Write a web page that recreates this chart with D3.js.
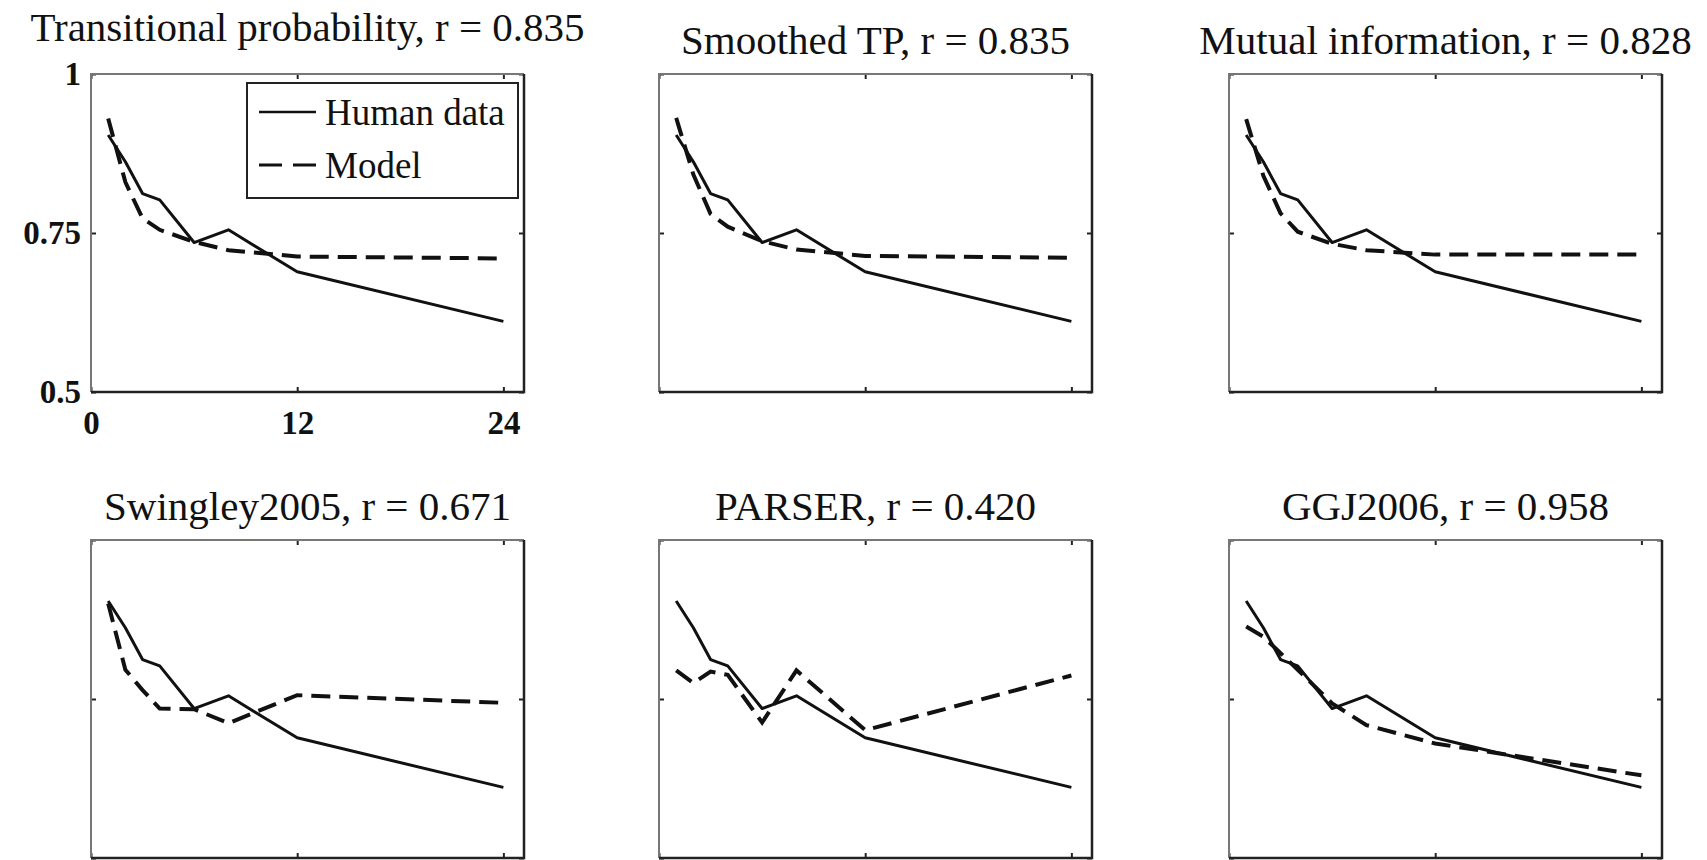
<!DOCTYPE html>
<html>
<head>
<meta charset="utf-8">
<script src="https://cdn.jsdelivr.net/npm/d3@7/dist/d3.min.js"></script>
<style>
  body { margin: 0; background: #fff; }
  svg { display: block; }
  text { font-family: "Liberation Serif", "Times New Roman", serif; fill: #111; }
</style>
</head>
<body>
<svg id="chart" width="1707" height="860"></svg>
<script>
// sentence length (words per sentence) on x, proportion correct on y
const sentenceLengths = [1, 2, 3, 4, 6, 8, 12, 24];
const humanData = [0.904, 0.862, 0.812, 0.802, 0.735, 0.755, 0.689, 0.611];

const modelNames = ['Transitional probability', 'Smoothed TP', 'Mutual information',
                    'Swingley2005', 'PARSER', 'GGJ2006'];
const modelR = ['0.835', '0.835', '0.828', '0.671', '0.420', '0.958'];

const tpModel       = [0.930, 0.830, 0.773, 0.755, 0.736, 0.723, 0.713, 0.710];
const smoothedModel = [0.931, 0.842, 0.780, 0.760, 0.737, 0.724, 0.714, 0.711];
const miModel       = [0.929, 0.840, 0.781, 0.752, 0.733, 0.723, 0.716, 0.716];
const swingleyModel = [0.900, 0.796, 0.764, 0.735, 0.734, 0.712, 0.756, 0.744];
const parserModel   = [0.795, 0.775, 0.793, 0.788, 0.713, 0.795, 0.701, 0.787];
const ggjModel      = [0.864, 0.848, 0.822, 0.796, 0.743, 0.709, 0.680, 0.630];

const xTicks = [0, 12, 24];
const yTicks = [0.5, 0.75, 1];
const yTickLabels = ['0.5', '0.75', '1'];
const legendLabels = ['Human data', 'Model'];

const modelSeries = [tpModel, smoothedModel, miModel, swingleyModel, parserModel, ggjModel];

// layout
const colLefts = [91, 659, 1229];
const rowTops = [74, 540];
const pw = 433, ph = 318;

const svg = d3.select('#chart');

const x = d3.scaleLinear().domain([0, 25.2]).range([0, pw]);
const y = d3.scaleLinear().domain([0.5, 1]).range([ph, 0]);

const line = d3.line()
  .x(d => x(d[0]))
  .y(d => y(d[1]));

modelNames.forEach((name, i) => {
  const col = i % 3, row = Math.floor(i / 3);
  const g = svg.append('g')
    .attr('transform', `translate(${colLefts[col]},${rowTops[row]})`);
  const first = i === 0;

  // title
  g.append('text')
    .attr('x', pw / 2)
    .attr('y', first ? -33 : -20)
    .attr('text-anchor', 'middle')
    .attr('font-size', 41)
    .text(`${name}, r = ${modelR[i]}`);

  // inward ticks, labels only on the first panel
  const bottom = d3.axisBottom(x).tickValues(xTicks).tickSizeInner(-5).tickSizeOuter(0)
    .tickPadding(19).tickFormat(first ? d3.format('d') : '');
  const top = d3.axisTop(x).tickValues(xTicks).tickSizeInner(-5).tickSizeOuter(0).tickFormat('');
  const left = d3.axisLeft(y).tickValues(yTicks).tickSizeInner(-5).tickSizeOuter(0)
    .tickPadding(10).tickFormat(first ? ((d, k) => yTickLabels[k]) : '');
  const right = d3.axisRight(y).tickValues(yTicks).tickSizeInner(-5).tickSizeOuter(0).tickFormat('');

  const styleAxis = sel => {
    sel.select('.domain').remove();
    sel.selectAll('line').attr('stroke', '#222').attr('stroke-width', 2);
    sel.selectAll('text')
      .attr('font-family', '"Liberation Serif", serif')
      .attr('font-size', 33)
      .attr('font-weight', 'bold')
      .attr('fill', '#111');
  };
  g.append('g').attr('transform', `translate(0,${ph})`).call(bottom).call(styleAxis);
  g.append('g').call(top).call(styleAxis);
  g.append('g').call(left).call(styleAxis);
  g.append('g').attr('transform', `translate(${pw},0)`).call(right).call(styleAxis);

  // box
  g.append('path').attr('d', `M0,${ph}V0H${pw}`)
    .attr('fill', 'none').attr('stroke', '#777').attr('stroke-width', 2);
  g.append('path').attr('d', `M0,${ph}H${pw}V0`)
    .attr('fill', 'none').attr('stroke', '#222').attr('stroke-width', 2.5);

  // human data
  g.append('path')
    .datum(d3.zip(sentenceLengths, humanData))
    .attr('d', line)
    .attr('fill', 'none')
    .attr('stroke', '#111')
    .attr('stroke-width', 3)
    .attr('stroke-linejoin', 'round');

  // model
  g.append('path')
    .datum(d3.zip(sentenceLengths, modelSeries[i]))
    .attr('d', line)
    .attr('fill', 'none')
    .attr('stroke', '#111')
    .attr('stroke-width', 4)
    .attr('stroke-dasharray', '19,9');

  if (first) {
    const lg = g.append('g').attr('transform', 'translate(156,9)');
    lg.append('rect')
      .attr('width', 271).attr('height', 115)
      .attr('fill', '#fff').attr('stroke', '#222').attr('stroke-width', 2);
    legendLabels.forEach((lab, k) => {
      const ly = k === 0 ? 29 : 82;
      lg.append('line')
        .attr('x1', 12).attr('x2', 69).attr('y1', ly).attr('y2', ly)
        .attr('stroke', '#111').attr('stroke-width', k === 0 ? 2.5 : 3)
        .attr('stroke-dasharray', k === 0 ? null : '23,11');
      lg.append('text')
        .attr('x', 78).attr('y', ly + 13)
        .attr('font-size', 37)
        .text(lab);
    });
  }
});
</script>
</body>
</html>
